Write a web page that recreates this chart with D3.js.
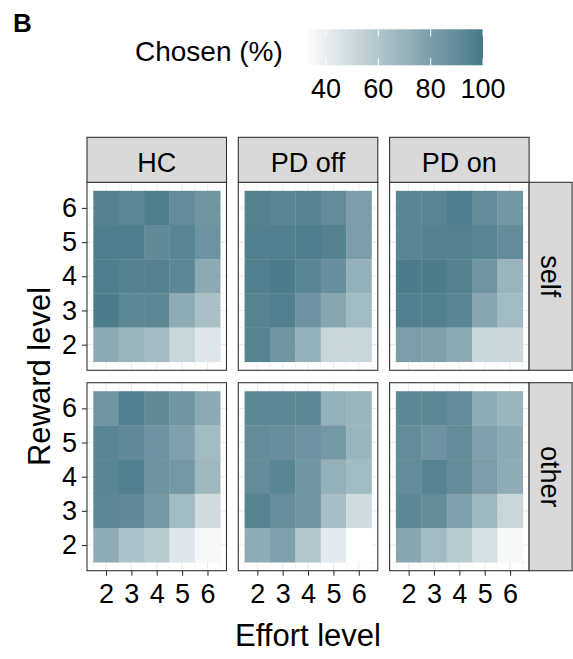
<!DOCTYPE html>
<html>
<head>
<meta charset="utf-8">
<script src="https://cdn.jsdelivr.net/npm/d3@7"></script>
<style>
  body { margin: 0; background: #fff; }
  svg { display: block; font-family: "Liberation Sans", Arial, sans-serif; }
</style>
</head>
<body>
<div class="canvas"></div>
<script>
// data: percent chosen, rows = reward 6 (top) .. 2 (bottom), cols = effort 2..6
const effortLevels = [2, 3, 4, 5, 6];
const rewardLevels = [6, 5, 4, 3, 2];
const groups = ['HC', 'PD off', 'PD on'];
const targets = ['self', 'other'];

const hcSelf = [
    [95, 92, 97, 90, 85],
    [97, 97, 91, 93, 86],
    [97, 95, 95, 92, 74],
    [98, 92, 92, 73, 63],
    [74, 69, 66, 52, 44]
];
const pdOffSelf = [
    [95, 93, 94, 90, 81],
    [96, 96, 97, 95, 81],
    [96, 98, 93, 88, 71],
    [94, 96, 86, 76, 66],
    [94, 85, 71, 52, 52]
];
const pdOnSelf = [
    [93, 93, 97, 90, 84],
    [93, 95, 95, 93, 90],
    [98, 98, 95, 85, 69],
    [96, 96, 93, 76, 66],
    [81, 79, 74, 51, 51]
];
const hcOther = [
    [85, 96, 91, 85, 74],
    [93, 91, 86, 79, 66],
    [93, 96, 86, 83, 67],
    [92, 91, 83, 66, 49],
    [73, 62, 58, 44, 35]
];
const pdOffOther = [
    [92, 92, 92, 71, 69],
    [90, 88, 86, 83, 69],
    [90, 93, 85, 71, 66],
    [94, 88, 85, 64, 49],
    [73, 79, 60, 42, 32]
];
const pdOnOther = [
    [92, 92, 90, 73, 69],
    [90, 86, 90, 79, 74],
    [90, 94, 90, 81, 73],
    [92, 90, 79, 67, 52],
    [76, 66, 58, 47, 35]
];

const colorLimits = [32, 100];
const legendTicks = [40, 60, 80, 100];

const panelData = {
    'self': [hcSelf, pdOffSelf, pdOnSelf],
    'other': [hcOther, pdOffOther, pdOnOther]
};

// layout
const width = 573, height = 659;
const panelW = 139.5, panelH = 188;
const panelX = [87, 238.3, 389.6];
const panelY = [182.3, 382.7];
const stripTop = 137.3, stripH = 45;
const stripRightW = 43;

const svg = d3.select('.canvas')
    .append('svg')
    .attr('width', width)
    .attr('height', height);

const color = d3.scaleLinear()
    .domain(colorLimits)
    .range(['#ffffff', '#467987'])
    .interpolate(d3.interpolateLab);

// scales (shared by all panels)
const x = d3.scaleLinear().domain([1.25, 6.75]).range([0, panelW]);
const y = d3.scaleLinear().domain([1.25, 6.75]).range([panelH, 0]);

const majors = [2, 3, 4, 5, 6];
const minors = [1.5, 2.5, 3.5, 4.5, 5.5, 6.5];

targets.forEach((target, r) => {
    groups.forEach((group, c) => {
        const g = svg.append('g')
            .attr('transform', `translate(${panelX[c]}, ${panelY[r]})`);

        // grid
        g.selectAll('.minor-v').data(minors).enter().append('line')
            .attr('x1', d => x(d)).attr('x2', d => x(d))
            .attr('y1', 0).attr('y2', panelH)
            .attr('stroke', '#ebebeb').attr('stroke-width', 0.55);
        g.selectAll('.minor-h').data(minors).enter().append('line')
            .attr('y1', d => y(d)).attr('y2', d => y(d))
            .attr('x1', 0).attr('x2', panelW)
            .attr('stroke', '#ebebeb').attr('stroke-width', 0.55);
        g.selectAll('.major-v').data(majors).enter().append('line')
            .attr('x1', d => x(d)).attr('x2', d => x(d))
            .attr('y1', 0).attr('y2', panelH)
            .attr('stroke', '#ebebeb').attr('stroke-width', 1.1);
        g.selectAll('.major-h').data(majors).enter().append('line')
            .attr('y1', d => y(d)).attr('y2', d => y(d))
            .attr('x1', 0).attr('x2', panelW)
            .attr('stroke', '#ebebeb').attr('stroke-width', 1.1);

        // tiles
        const cells = [];
        panelData[target][c].forEach((row, i) => {
            row.forEach((v, j) => {
                cells.push({ effort: effortLevels[j], reward: rewardLevels[i], value: v });
            });
        });
        g.selectAll('rect.tile').data(cells).enter().append('rect')
            .attr('class', 'tile')
            .attr('x', d => x(d.effort - 0.5))
            .attr('y', d => y(d.reward + 0.5))
            .attr('width', d => x(d.effort + 0.5) - x(d.effort - 0.5) + 0.3)
            .attr('height', d => y(d.reward - 0.5) - y(d.reward + 0.5) + 0.3)
            .attr('fill', d => color(d.value));

        // border
        g.append('rect')
            .attr('width', panelW).attr('height', panelH)
            .attr('fill', 'none').attr('stroke', '#333').attr('stroke-width', 1.1);

        // axes
        if (c === 0) {
            const yAxis = g.append('g').call(d3.axisLeft(y).tickValues(majors)
                .tickFormat(d3.format('d')).tickSize(5).tickPadding(5));
            yAxis.select('.domain').remove();
            yAxis.selectAll('line').attr('stroke', '#333').attr('stroke-width', 1.1);
            yAxis.selectAll('text').attr('font-size', 27).attr('fill', '#000')
                .attr('font-family', '"Liberation Sans", Arial, sans-serif');
        }
        if (r === targets.length - 1) {
            const xAxis = g.append('g')
                .attr('transform', `translate(0, ${panelH})`)
                .call(d3.axisBottom(x).tickValues(majors)
                    .tickFormat(d3.format('d')).tickSize(5).tickPadding(8));
            xAxis.select('.domain').remove();
            xAxis.selectAll('line').attr('stroke', '#333').attr('stroke-width', 1.1);
            xAxis.selectAll('text').attr('font-size', 27).attr('fill', '#000')
                .attr('font-family', '"Liberation Sans", Arial, sans-serif');
        }

        // top strip
        if (r === 0) {
            svg.append('rect')
                .attr('x', panelX[c]).attr('y', stripTop)
                .attr('width', panelW).attr('height', stripH)
                .attr('fill', '#d9d9d9').attr('stroke', '#333').attr('stroke-width', 1.1);
            svg.append('text')
                .attr('x', panelX[c] + panelW / 2).attr('y', stripTop + 34.4)
                .attr('text-anchor', 'middle').attr('font-size', 27)
                .text(group);
        }
        // right strip
        if (c === groups.length - 1) {
            const sx = panelX[c] + panelW;
            svg.append('rect')
                .attr('x', sx).attr('y', panelY[r])
                .attr('width', stripRightW).attr('height', panelH)
                .attr('fill', '#d9d9d9').attr('stroke', '#333').attr('stroke-width', 1.1);
            svg.append('text')
                .attr('transform', `translate(${sx + 11.5}, ${panelY[r] + panelH / 2}) rotate(90)`)
                .attr('text-anchor', 'middle').attr('font-size', 27)
                .text(target);
        }
    });
});

// axis titles
svg.append('text')
    .attr('x', (panelX[0] + panelX[2] + panelW) / 2).attr('y', 646)
    .attr('text-anchor', 'middle').attr('font-size', 31)
    .text('Effort level');

svg.append('text')
    .attr('transform', `translate(50, ${(panelY[0] + panelY[1] + panelH) / 2}) rotate(-90)`)
    .attr('text-anchor', 'middle').attr('font-size', 31)
    .text('Reward level');

// panel tag
svg.append('text')
    .attr('x', 13).attr('y', 32)
    .attr('font-size', 26).attr('font-weight', 'bold')
    .text('B');

// legend
const legX = 305, legW = 178, legY = 29.3, legH = 36;
const lx = d3.scaleLinear().domain(colorLimits).range([legX, legX + legW]);

const grad = svg.append('defs').append('linearGradient')
    .attr('id', 'legend-grad').attr('x1', '0%').attr('x2', '100%');
d3.range(0, 1.0001, 0.05).forEach(t => {
    grad.append('stop')
        .attr('offset', `${t * 100}%`)
        .attr('stop-color', color(colorLimits[0] + t * (colorLimits[1] - colorLimits[0])));
});

svg.append('rect')
    .attr('x', legX).attr('y', legY)
    .attr('width', legW).attr('height', legH)
    .attr('fill', 'url(#legend-grad)');

legendTicks.forEach(v => {
    svg.append('line')
        .attr('x1', lx(v)).attr('x2', lx(v))
        .attr('y1', legY).attr('y2', legY + legH / 5)
        .attr('stroke', '#fff').attr('stroke-width', 1);
    svg.append('line')
        .attr('x1', lx(v)).attr('x2', lx(v))
        .attr('y1', legY + legH - legH / 5).attr('y2', legY + legH)
        .attr('stroke', '#fff').attr('stroke-width', 1);
});

svg.selectAll('text.leg-label').data(legendTicks).enter().append('text')
    .attr('class', 'leg-label')
    .attr('x', d => lx(d)).attr('y', 98)
    .attr('text-anchor', 'middle').attr('font-size', 27)
    .text(d => d);

svg.append('text')
    .attr('x', 135).attr('y', 61)
    .attr('font-size', 28)
    .text('Chosen (%)');
</script>
</body>
</html>
